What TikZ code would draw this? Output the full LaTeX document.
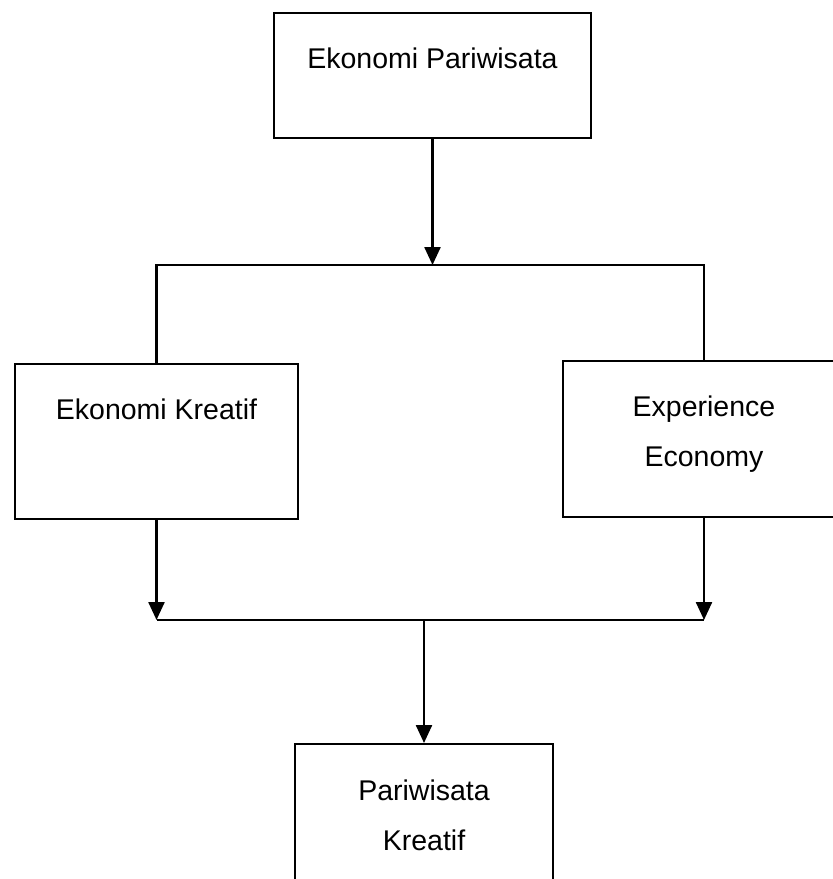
\documentclass[tikz,border=0pt]{standalone}
\usepackage{fontspec}
\setmainfont{Liberation Sans}
\usetikzlibrary{arrows.meta}

\begin{document}
\begin{tikzpicture}[x=0.5pt, y=-0.5pt, line width=1.2pt,
	box/.style={draw, rectangle, inner sep=0pt, align=center,
		font=\fontsize{14.25}{25}\selectfont, anchor=north},
	>={Triangle[width=8pt,length=9pt]}]
	\clip (0,0) rectangle (833,879);
	\node (ep) at (432.5,12) [box, minimum width=158.5pt, text height=27.5pt, text depth=35pt] {Ekonomi Pariwisata};
		\node (ek) at (156.5,363) [box, minimum width=141.5pt, text height=27.5pt, text depth=50pt] {Ekonomi Kreatif};
		\node (ee) at (704,360) [box, minimum width=141pt, text height=52.5pt, text depth=25.5pt] {Experience\\Economy};
			\node (pk) at (424,743) [box, minimum width=129pt, text height=53pt, text depth=25.5pt] {Pariwisata\\Kreatif};
	\coordinate (split) at (432.5,265);
	\coordinate (merge) at (424,620);
	\draw[->] (ep) to (split);
	\draw (ek.north) |- (split) -| (ee.north);
	\draw[->] (ek.south) to (ek.south |- merge);
	\draw[->] (ee.south) to (ee.south |- merge);
	\draw (ek.south |- merge) to (ee.south |- merge);
	\draw[->] (merge) to (pk);
\end{tikzpicture}
\end{document}
